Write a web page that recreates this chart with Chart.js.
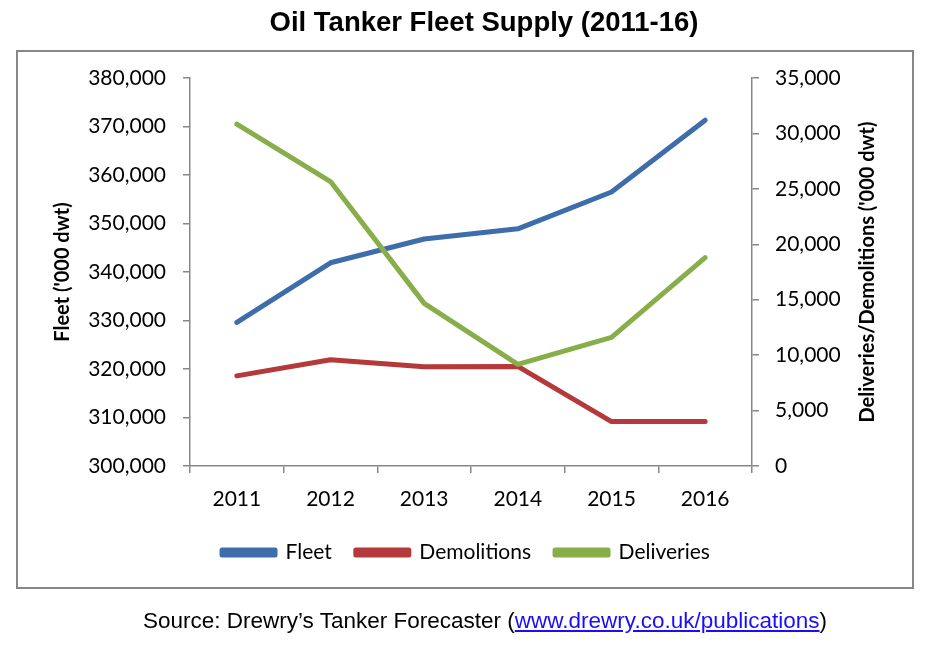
<!DOCTYPE html>
<html>
<head>
<meta charset="utf-8">
<script src="https://cdn.jsdelivr.net/npm/chart.js@4.4.1/dist/chart.umd.min.js"></script>
<style>
    body { margin: 0; background: #fff; }
    #wrap { position: relative; width: 936px; height: 646px; }
    #source {
        position: absolute; left: 0; width: 970px; top: 608px;
        text-align: center; font-family: "Liberation Sans", Arial, sans-serif;
        font-size: 22.5px; color: #000;
    }
    #source a { color: #1a0dff; text-decoration: underline; }
</style>
</head>
<body>
<div id="wrap">
    <canvas id="chart" width="936" height="646"></canvas>
    <div id="source">Source: Drewry’s Tanker Forecaster (<a href="#">www.drewry.co.uk/publications</a>)</div>
</div>
<script>
// Values ('000 dwt)
const years = ['2011', '2012', '2013', '2014', '2015', '2016'];
const fleet = [329600, 341900, 346800, 348900, 356500, 371300];
const demolitions = [8130, 9580, 8950, 8980, 4010, 4010];
const deliveries = [30840, 25660, 14670, 9160, 11600, 18790];

const CHART_TITLE = 'Oil Tanker Fleet Supply (2011-16)';
const RIGHT_TITLE = "Deliveries/Demolitions ('000 dwt)";

const AXIS_GREY = '#878787';
const TICK_FONT = { family: 'Lato, "Open Sans", sans-serif', size: 21 };
const TITLE_FONT = { family: 'Lato, "Open Sans", sans-serif', size: 20, weight: 'bold' };

// main title, border box and right axis title (reads bottom to top)
const framePlugin = {
    id: 'frame',
    afterDraw(chart) {
        const ctx = chart.ctx;
        const area = chart.chartArea;
        ctx.save();
        ctx.strokeStyle = AXIS_GREY;
        ctx.lineWidth = 2;
        ctx.strokeRect(17, 51, 896, 537);

        ctx.fillStyle = '#000';
        ctx.textAlign = 'center';
        ctx.textBaseline = 'middle';
        ctx.font = 'bold 27.5px "Liberation Sans", Arial, sans-serif';
        ctx.fillText(CHART_TITLE, 484, 23);

        ctx.font = 'bold 20px Lato, "Open Sans", sans-serif';
        ctx.translate(868, (area.top + area.bottom) / 2);
        ctx.rotate(-Math.PI / 2);
        ctx.fillText(RIGHT_TITLE, 0, 0);
        ctx.restore();
    }
};

function lineSet(label, data, color, axis, order) {
    return {
        label: label,
        data: data,
        yAxisID: axis,
        order: order,
        borderColor: color,
        backgroundColor: color,
        borderWidth: 5,
        borderCapStyle: 'round',
        borderJoinStyle: 'round',
        pointRadius: 0,
        tension: 0,
        fill: false
    };
}

const ctx = document.getElementById('chart').getContext('2d');
new Chart(ctx, {
    type: 'line',
    data: {
        labels: years,
        datasets: [
            lineSet('Fleet', fleet, '#3E6DAC', 'yFleet', 2),
            lineSet('Demolitions', demolitions, '#B5393A', 'yFlow', 1),
            lineSet('Deliveries', deliveries, '#87AE49', 'yFlow', 0)
        ]
    },
    options: {
        responsive: false,
        animation: false,
        layout: { padding: { left: 20, right: 24, top: 78, bottom: 73 } },
        plugins: {
            title: { display: false },
            legend: {
                position: 'bottom',
                labels: {
                    color: '#000',
                    font: TICK_FONT,
                    boxWidth: 53,
                    boxHeight: 5,
                    padding: 24,
                    sort: (a, b) => a.datasetIndex - b.datasetIndex
                }
            },
            tooltip: { enabled: false }
        },
        scales: {
            x: {
                offset: true,
                afterFit: (scale) => { scale.height = 52; },
                grid: { display: true, offset: true, drawOnChartArea: false, tickLength: 7, color: AXIS_GREY, lineWidth: 1.5 },
                border: { color: AXIS_GREY, width: 1.5 },
                ticks: { color: '#000', font: TICK_FONT, padding: 14, maxRotation: 0 }
            },
            yFleet: {
                position: 'left',
                min: 300000,
                max: 380000,
                afterFit: (scale) => { scale.width = 170; },
                grid: { drawOnChartArea: false, tickLength: 7, color: AXIS_GREY, lineWidth: 1.5 },
                border: { color: AXIS_GREY, width: 1.5 },
                ticks: {
                    stepSize: 10000,
                    color: '#000',
                    font: TICK_FONT,
                    padding: 17,
                    callback: (v) => v.toLocaleString('en-US')
                },
                title: {
                    display: true,
                    text: "Fleet ('000 dwt)",
                    color: '#000',
                    font: TITLE_FONT,
                    padding: { top: 31, bottom: 0 }
                }
            },
            yFlow: {
                position: 'right',
                min: 0,
                max: 35000,
                afterFit: (scale) => { scale.width = 160; },
                grid: { drawOnChartArea: false, tickLength: 7, color: AXIS_GREY, lineWidth: 1.5 },
                border: { color: AXIS_GREY, width: 1.5 },
                ticks: {
                    stepSize: 5000,
                    color: '#000',
                    font: TICK_FONT,
                    padding: 16,
                    callback: (v) => v.toLocaleString('en-US')
                }
            }
        }
    },
    plugins: [framePlugin]
});
</script>
</body>
</html>
